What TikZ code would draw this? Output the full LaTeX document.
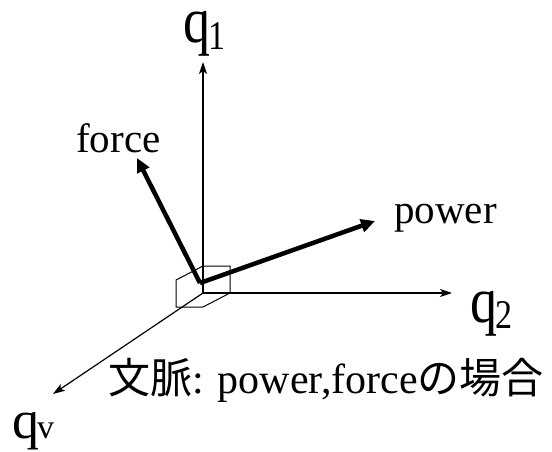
\documentclass[tikz,border=0pt]{standalone}
\usepackage{fontspec}
\usepackage{graphicx}
\setmainfont{Liberation Serif}
\newfontfamily\jpfont{Noto Sans CJK JP}
\usetikzlibrary{arrows.meta}
% stretched axis label: yscale, subscript, drop
\newcommand{\qlabel}[3]{\scalebox{1}[#1]{\fontsize{54}{54}\selectfont q}\kern-2pt\raisebox{-#3}{\scalebox{1}[#1]{\fontsize{34}{34}\selectfont #2}}}

\begin{document}
\begin{tikzpicture}[x=1pt,y=-1pt,font=\fontsize{41}{41}\selectfont,
  axis/.style={line width=1.2pt,-{Stealth[length=12pt,width=8pt,inset=3pt]}},
  vec/.style={line width=4.5pt,-{Triangle[length=14pt,width=13pt]}}]
\useasboundingbox (0,0) rectangle (552,452);
\coordinate (o) at (203,293); \coordinate (base) at (200,283);
\coordinate (q1tip) at (203,62); \coordinate (q2tip) at (452,293); \coordinate (qvtip) at (53,394);
\coordinate (forcetip) at (137,158); \coordinate (powertip) at (375,221);
% small cube round the origin
\draw[line width=1pt] (o) ++(0,-27) -- ++(27,0) -- ++(0,27) -- ++(-27,14) -- ++(-27,0) -- ++(0,-27) -- cycle;
\draw[axis] (o)--(q1tip); \draw[axis] (o)--(q2tip); \draw[axis] (o)--(qvtip);
\draw[vec] (base)--(forcetip); \draw[vec] (base)--(powertip);
\node[anchor=base west,inner sep=0pt] (q1) at (183,43) {\qlabel{1.2}{1}{7pt}};
\node[anchor=base west,inner sep=0pt] (q2) at (470,322) {\qlabel{1.2}{2}{6pt}};
\node[anchor=base west,inner sep=0pt] (qv) at (12,438) {\qlabel{1}{v}{0pt}};
\node[anchor=base west,inner sep=0pt] (force) at (76,152) {force};
\node[anchor=base west,inner sep=0pt] (power) at (394,223) {power};
\node[anchor=base west,inner sep=0pt,font=\fontsize{42}{42}\selectfont] (context) at (108,393) {{\jpfont\fontsize{42}{42}\selectfont 文脈}: power,force{\jpfont\fontsize{42}{42}\selectfont の場合}};
\end{tikzpicture}
\end{document}
